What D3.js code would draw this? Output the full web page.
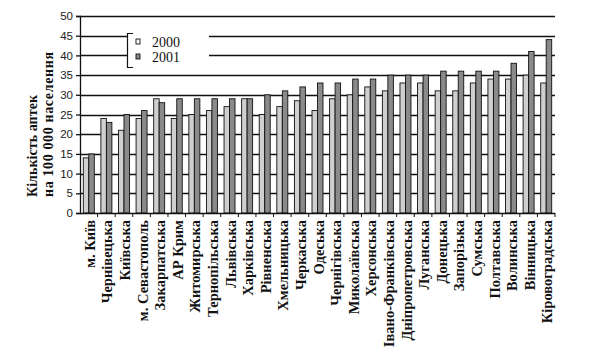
<!DOCTYPE html>
<html>
<head>
<meta charset="utf-8">
<script src="https://cdn.jsdelivr.net/npm/d3@7"></script>
<style>
    html, body { margin: 0; padding: 0; background: #fff; }
    svg { display: block; }
</style>
</head>
<body>
<svg id="chartArea" width="601" height="356"></svg>
<script>

//#region data

const categories = [
    'м. Київ', 'Чернівецька', 'Київська', 'м. Севастополь', 'Закарпатська',
    'АР Крим', 'Житомирська', 'Тернопільська', 'Львівська', 'Харківська',
    'Рівненська', 'Хмельницька', 'Черкаська', 'Одеська', 'Чернігівська',
    'Миколаївська', 'Херсонська', 'Івано-Франківська', 'Дніпропетровська', 'Луганська',
    'Донецька', 'Запорізька', 'Сумська', 'Полтавська', 'Волинська',
    'Вінницька', 'Кіровоградська'
];

const series_names = ['2000', '2001'];

const values_2000 = [14, 24, 21, 24, 29, 24, 25, 26, 27, 29, 25, 27, 28.5, 26, 29, 30, 32, 31, 33, 33, 31, 31, 33, 34, 34, 35, 33];
const values_2001 = [15, 23, 25, 26, 28, 29, 29, 29, 29, 29, 30, 31, 32, 33, 33, 34, 34, 35, 35, 35, 36, 36, 36, 36, 38, 41, 44];

const y_ticks = [0, 5, 10, 15, 20, 25, 30, 35, 40, 45, 50];

const y_title = ['Кількість аптек', 'на 100 000 населення'];

//#endregion


//#region global variables

let plot_left   = 80;      // left edge of the plot (y axis)
let plot_right  = 555;     // right edge of the plot
let plot_top    = 16;      // y of value 50
let plot_bottom = 213;     // y of value 0

let color_2000 = '#cfcfcf';
let color_2001 = '#8a8a8a';
let serif_font = '"Liberation Serif", "Times New Roman", serif';
let sans_font  = '"Liberation Sans", Arial, sans-serif';

//#endregion


const svg = d3.select('#chartArea');

const rows = categories.map((name, i) => ({ name: name, values: [values_2000[i], values_2001[i]] }));

const x0 = d3.scaleBand().domain(categories).range([plot_left, plot_right]).padding(0);
const x1 = d3.scaleBand().domain(series_names).range([3.3, x0.bandwidth() - 3.3]).padding(0);
const y  = d3.scaleLinear().domain([0, 50]).range([plot_bottom, plot_top]);
const fill = d3.scaleOrdinal().domain(series_names).range([color_2000, color_2001]);


/**
 *  horizontal gridlines
 */
svg.append('g')
    .selectAll('line')
    .data(y_ticks.filter(d => d > 0))
    .join('line')
        .attr('x1', plot_left)
        .attr('x2', plot_right)
        .attr('y1', d => Math.round(y(d)) + 0.5)
        .attr('y2', d => Math.round(y(d)) + 0.5)
        .attr('stroke', '#111')
        .attr('stroke-width', 1.4);


/**
 *  bars, two per region
 */
svg.append('g')
    .selectAll('g')
    .data(rows)
    .join('g')
        .attr('transform', d => `translate(${x0(d.name)},0)`)
    .selectAll('rect')
    .data(d => d.values.map((v, k) => ({ key: series_names[k], value: v })))
    .join('rect')
        .attr('x', d => x1(d.key))
        .attr('width', x1.bandwidth())
        .attr('y', d => y(d.value))
        .attr('height', d => y(0) - y(d.value))
        .attr('fill', d => fill(d.key))
        .attr('stroke', '#111')
        .attr('stroke-width', 0.9);


/**
 *  y axis with ticks outside
 */
svg.append('g')
    .attr('transform', `translate(${plot_left},0)`)
    .call(d3.axisLeft(y).tickValues(y_ticks).tickSize(4).tickPadding(3))
    .call(g => g.selectAll('path, line').attr('stroke', '#111').attr('stroke-width', 1.3))
    .call(g => g.selectAll('text')
        .attr('font-family', sans_font)
        .attr('font-size', 11.5)
        .attr('fill', '#222'));


/**
 *  x axis: ticks sit between the categories
 */
const boundaries = categories.map(c => x0(c)).concat([plot_right]);

svg.append('line')
    .attr('x1', plot_left).attr('x2', plot_right)
    .attr('y1', plot_bottom + 0.5).attr('y2', plot_bottom + 0.5)
    .attr('stroke', '#111').attr('stroke-width', 1.3);

svg.append('g')
    .selectAll('line')
    .data(boundaries.slice(1))
    .join('line')
        .attr('x1', d => d).attr('x2', d => d)
        .attr('y1', plot_bottom).attr('y2', plot_bottom + 4)
        .attr('stroke', '#111');

svg.append('g')
    .selectAll('text')
    .data(categories)
    .join('text')
        .attr('transform', d => `translate(${x0(d) + x0.bandwidth() / 2 + 1},220) rotate(-90)`)
        .attr('dy', '0.35em')
        .attr('text-anchor', 'end')
        .attr('font-family', serif_font)
        .attr('font-size', 14.5)
        .attr('font-weight', 'bold')
        .attr('fill', '#111')
        .text(d => d);


/**
 *  y axis title, two lines
 */
svg.append('g')
    .selectAll('text')
    .data(y_title)
    .join('text')
        .attr('transform', (d, i) => `translate(${i === 0 ? 37 : 53},197) rotate(-90)`)
        .attr('text-anchor', 'start')
        .attr('font-family', serif_font)
        .attr('font-size', 14)
        .attr('font-weight', 'bold')
        .attr('fill', '#111')
        .attr('textLength', (d, i) => i === 0 ? 102 : 145)
        .attr('lengthAdjust', 'spacing')
        .text(d => d);


/**
 *  legend box (white, bracket on the left side)
 */
const legend = svg.append('g');

legend.append('rect')
    .attr('x', 127).attr('y', 33)
    .attr('width', 82).attr('height', 34)
    .attr('fill', '#fff');

legend.append('path')
    .attr('d', 'M133,33.5 H127.5 V67.5 H133')
    .attr('fill', 'none')
    .attr('stroke', '#111')
    .attr('stroke-width', 1.2);

legend.selectAll('rect.swatch')
    .data(series_names)
    .join('rect')
        .attr('class', 'swatch')
        .attr('x', 136)
        .attr('y', (d, i) => 39 + i * 15)
        .attr('width', 4)
        .attr('height', 5)
        .attr('fill', d => d === '2000' ? '#fff' : color_2001)
        .attr('stroke', '#111')
        .attr('stroke-width', 0.9);

legend.selectAll('text')
    .data(series_names)
    .join('text')
        .attr('x', 152)
        .attr('y', (d, i) => 47 + i * 14.5)
        .attr('font-family', serif_font)
        .attr('font-size', 14)
        .attr('fill', '#111')
        .text(d => d);

</script>
</body>
</html>
